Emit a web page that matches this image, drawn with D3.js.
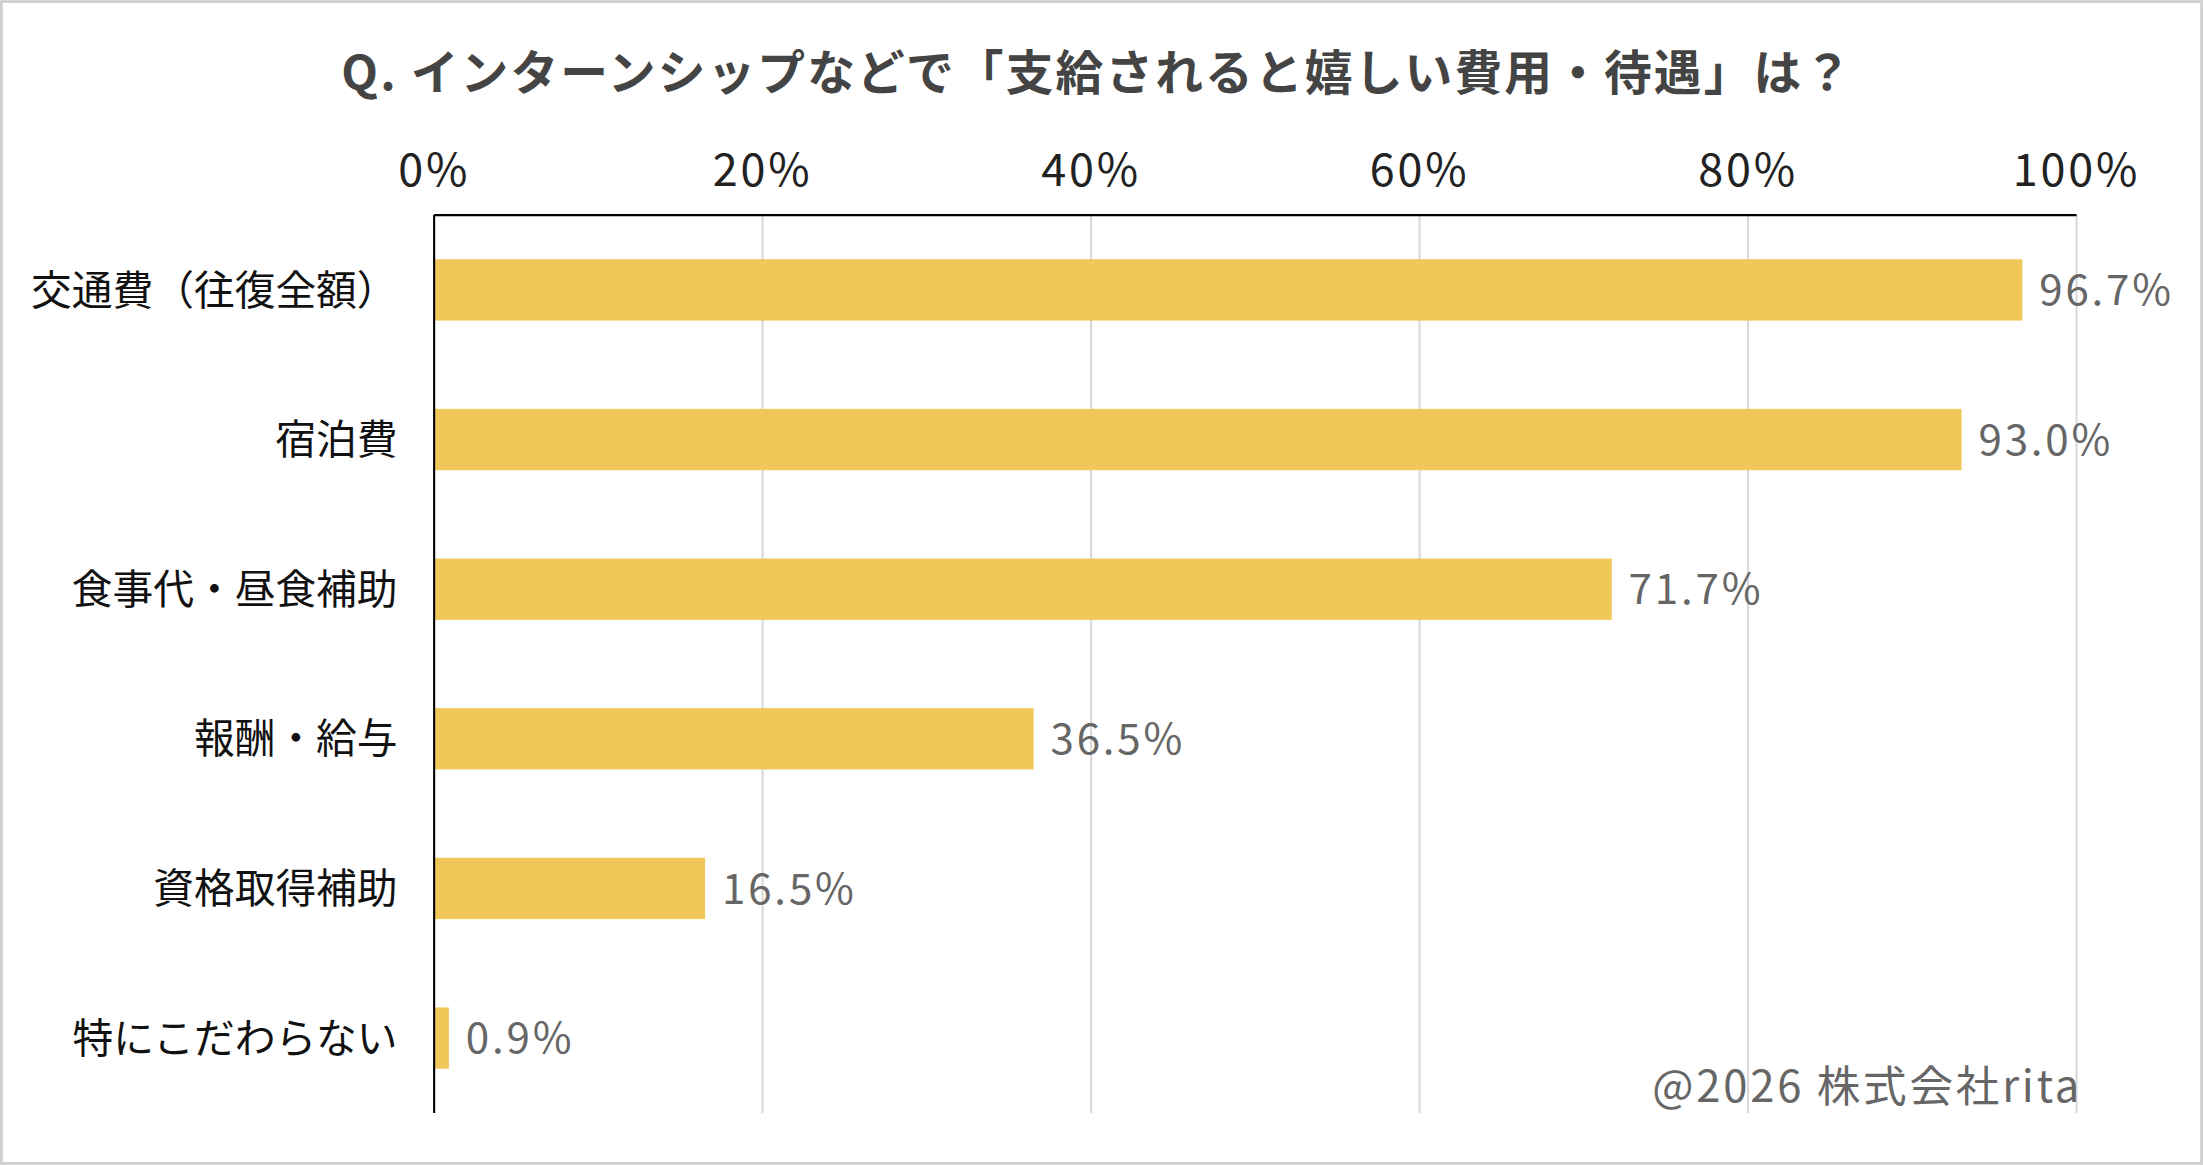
<!DOCTYPE html><html><head><meta charset="utf-8"><script src="https://cdn.jsdelivr.net/npm/d3@7"></script>
<style>html,body{margin:0;padding:0;background:#fff}svg{display:block}</style></head><body>
<script>
const categories=["交通費（往復全額）","宿泊費","食事代・昼食補助","報酬・給与","資格取得補助","特にこだわらない"];
const values=[96.7,93.0,71.7,36.5,16.5,0.9];
const tickValues=[0,20,40,60,80,100];
const W=1568,H=829;
const svg=d3.select("body").append("svg").attr("width",2203).attr("height",1165).attr("viewBox",`0 0 ${W} ${H}`)
 .style("font-family","'Noto Sans CJK JP','Noto Sans',sans-serif");
svg.append("rect").attr("x",1).attr("y",1).attr("width",W-2).attr("height",H-2).attr("fill","#fff").attr("stroke","#d0d0d0").attr("stroke-width",2);
const x=d3.scaleLinear().domain([0,100]).range([309,1478]);
const y=d3.scaleBand().domain(categories).range([153,792]).paddingInner(0.59).paddingOuter(0.295);
svg.append("text").attr("x",781).attr("y",64).attr("text-anchor","middle").attr("font-size",34).attr("font-weight","bold").attr("fill","#444").attr("letter-spacing",1.5)
 .text("Q. インターンシップなどで「支給されると嬉しい費用・待遇」は？");
svg.selectAll(".grid").data(tickValues.slice(1)).join("line").attr("x1",d=>x(d)).attr("x2",d=>x(d)).attr("y1",153).attr("y2",792).attr("stroke","#d9d9d9").attr("stroke-width",1.5);
svg.selectAll(".tk").data(tickValues).join("text").attr("x",d=>x(d)).attr("y",132).attr("text-anchor","middle").attr("font-size",32).attr("letter-spacing",2).attr("fill","#222").text(d=>d+"%");
svg.selectAll(".bar").data(values).join("rect").attr("x",x(0)).attr("y",(d,i)=>y(categories[i])).attr("width",d=>x(d)-x(0)).attr("height",y.bandwidth()).attr("fill","#F0C85A");
svg.append("line").attr("x1",309).attr("x2",1478).attr("y1",153).attr("y2",153).attr("stroke","#000").attr("stroke-width",1.5);
svg.append("line").attr("x1",309).attr("x2",309).attr("y1",153).attr("y2",792).attr("stroke","#000").attr("stroke-width",1.5);
svg.selectAll(".cl").data(categories).join("text").attr("x",283).attr("y",d=>y(d)+y.bandwidth()/2).attr("dy","0.36em").attr("text-anchor","end").attr("font-size",29).attr("fill","#111").text(d=>d);
svg.selectAll(".vl").data(values).join("text").attr("x",d=>x(d)+12).attr("y",(d,i)=>y(categories[i])+y.bandwidth()/2).attr("dy","0.36em").attr("font-size",30).attr("letter-spacing",2).attr("fill","#666").text(d=>d.toFixed(1)+"%");
svg.append("text").attr("x",1482).attr("y",784).attr("text-anchor","end").attr("font-size",31).attr("letter-spacing",2).attr("fill","#666").text("@2026 株式会社rita");
</script></body></html>
